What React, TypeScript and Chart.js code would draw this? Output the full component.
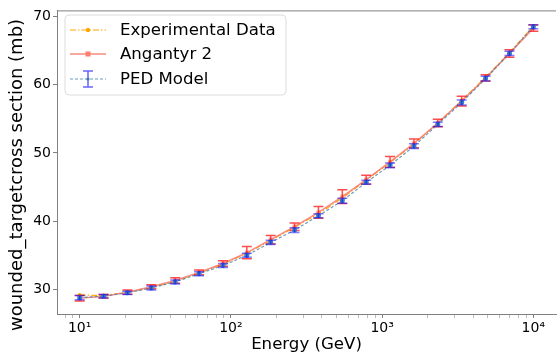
import React, { useEffect, useRef } from "react";
import { Chart, registerables } from "chart.js";

Chart.register(...registerables);

const energy = [10, 14.38, 20.69, 29.76, 42.81, 61.58, 88.59, 127.43, 183.3, 263.67, 379.27, 545.56, 784.76, 1128.84, 1623.78, 2335.72, 3359.82, 4832.93, 6951.93, 10000];
const expData = [29.2, 29.1, 29.6, 30.3, 31.2, 32.4, 33.7, 35.3, 37.2, 39.1, 41.1, 43.4, 46.0, 48.6, 51.3, 54.4, 57.7, 61.1, 64.7, 68.6];
const angantyr = [28.7, 29.0, 29.6, 30.4, 31.3, 32.5, 33.8, 35.4, 37.3, 39.2, 41.3, 43.6, 46.1, 48.7, 51.4, 54.4, 57.6, 61.0, 64.6, 68.3];
const angantyrErr = [0.4, 0.25, 0.3, 0.3, 0.4, 0.35, 0.4, 0.9, 0.6, 0.55, 0.85, 1.0, 0.65, 0.8, 0.65, 0.55, 0.7, 0.45, 0.55, 0.45];
const ped = [28.8, 29.0, 29.5, 30.2, 31.1, 32.3, 33.5, 35.0, 36.9, 38.7, 40.8, 43.0, 45.7, 48.2, 51.0, 54.2, 57.4, 60.9, 64.6, 68.5];
const pedErr = [0.3, 0.25, 0.25, 0.3, 0.3, 0.3, 0.3, 0.3, 0.3, 0.35, 0.3, 0.35, 0.3, 0.35, 0.35, 0.3, 0.35, 0.35, 0.3, 0.3];
const yTicks = [30, 40, 50, 60, 70];
const xMajor = [10, 100, 1000, 10000];
const xMajorLabels = ["10¹", "10²", "10³", "10⁴"];
const legendLabels = ["Experimental Data", "Angantyr 2", "PED Model"];
const yTitle = "wounded_targetcross section (mb)";
const xTitle = "Energy (GeV)";

const FONT = "'DejaVu Sans', sans-serif";
const SPINE = "#808080";

const errorBarPlugin = {
  id: "errorBars",
  afterDatasetDraw(chart: any, args: any) {
    const ds: any = chart.data.datasets[args.index];
    if (!ds.errors) return;
    const ctx = chart.ctx;
    const xs = chart.scales.x;
    const ys = chart.scales.y;
    ctx.save();
    ctx.strokeStyle = ds.errorColor;
    ctx.lineWidth = 1.5;
    ds.data.forEach((p: any, i: number) => {
      const x = xs.getPixelForValue(p.x);
      const y1 = ys.getPixelForValue(p.y - ds.errors[i]);
      const y2 = ys.getPixelForValue(p.y + ds.errors[i]);
      const c = ds.capHalf;
      ctx.beginPath();
      ctx.moveTo(x, y1);
      ctx.lineTo(x, y2);
      ctx.moveTo(x - c, y1);
      ctx.lineTo(x + c, y1);
      ctx.moveTo(x - c, y2);
      ctx.lineTo(x + c, y2);
      ctx.stroke();
    });
    ctx.restore();
  },
};

const framePlugin = {
  id: "frame",
  afterDraw(chart: any) {
    const { ctx, chartArea } = chart;
    ctx.save();
    ctx.strokeStyle = SPINE;
    ctx.lineWidth = 1;
    ctx.beginPath();
    ctx.moveTo(chartArea.left, chartArea.top + 0.5);
    ctx.lineTo(chartArea.right, chartArea.top + 0.5);
    ctx.stroke();

    // y title
    ctx.save();
    ctx.translate(17, 175);
    ctx.rotate(-Math.PI / 2);
    ctx.fillStyle = "#000";
    ctx.font = `18px ${FONT}`;
    ctx.textAlign = "center";
    ctx.textBaseline = "middle";
    ctx.fillText(yTitle, 0, 0);
    ctx.restore();

    // legend
    const bx = 65, by = 15, bw = 221, bh = 80, r = 4;
    ctx.beginPath();
    ctx.moveTo(bx + r, by);
    ctx.arcTo(bx + bw, by, bx + bw, by + bh, r);
    ctx.arcTo(bx + bw, by + bh, bx, by + bh, r);
    ctx.arcTo(bx, by + bh, bx, by, r);
    ctx.arcTo(bx, by, bx + bw, by, r);
    ctx.closePath();
    ctx.fillStyle = "rgba(255,255,255,0.8)";
    ctx.fill();
    ctx.strokeStyle = "#dcdcdc";
    ctx.stroke();

    const rows = [30, 54, 79];
    const lx1 = 70, lx2 = 106, mx = 88;
    ctx.strokeStyle = "#ffa500";
    ctx.lineWidth = 1.2;
    ctx.setLineDash([6, 2, 1.5, 2]);
    ctx.beginPath();
    ctx.moveTo(lx1, rows[0]);
    ctx.lineTo(lx2, rows[0]);
    ctx.stroke();
    ctx.setLineDash([]);
    ctx.fillStyle = "#ffa500";
    ctx.beginPath();
    ctx.arc(mx, rows[0], 2.2, 0, Math.PI * 2);
    ctx.fill();
    ctx.strokeStyle = "rgba(250,128,114,0.9)";
    ctx.lineWidth = 1.5;
    ctx.beginPath();
    ctx.moveTo(lx1, rows[1]);
    ctx.lineTo(lx2, rows[1]);
    ctx.stroke();
    ctx.fillStyle = "#fa8072";
    ctx.fillRect(mx - 2.5, rows[1] - 2.5, 5, 5);
    ctx.strokeStyle = "rgba(70,130,180,0.8)";
    ctx.lineWidth = 1.2;
    ctx.setLineDash([3, 2]);
    ctx.beginPath();
    ctx.moveTo(lx1, rows[2]);
    ctx.lineTo(lx2, rows[2]);
    ctx.stroke();
    ctx.setLineDash([]);
    ctx.strokeStyle = "rgba(0,0,255,0.6)";
    ctx.lineWidth = 1.5;
    ctx.beginPath();
    ctx.moveTo(mx, rows[2] - 8);
    ctx.lineTo(mx, rows[2] + 8);
    ctx.moveTo(mx - 5, rows[2] - 8);
    ctx.lineTo(mx + 5, rows[2] - 8);
    ctx.moveTo(mx - 5, rows[2] + 8);
    ctx.lineTo(mx + 5, rows[2] + 8);
    ctx.stroke();
    ctx.fillStyle = "#3a75b0";
    ctx.beginPath();
    ctx.arc(mx, rows[2], 1.5, 0, Math.PI * 2);
    ctx.fill();

    ctx.fillStyle = "#000";
    ctx.font = `16.6px ${FONT}`;
    ctx.textBaseline = "middle";
    ctx.textAlign = "left";
    legendLabels.forEach((t, i) => ctx.fillText(t, 120, rows[i] + 1));
    ctx.restore();
  },
};

export default function App() {
  const ref = useRef<HTMLCanvasElement>(null);
  useEffect(() => {
    document.body.style.margin = "0";
    const pts = (ys: number[]) => energy.map((x, i) => ({ x, y: ys[i] }));
    const minorTicks: number[] = [];
    for (let d = 1; d <= 10000; d *= 10) {
      for (let k = 1; k <= 9; k++) {
        const v = d * k;
        if (v >= 7.08 && v <= 14125) minorTicks.push(v);
      }
    }
    const chart = new Chart(ref.current!, {
      type: "line",
      data: {
        datasets: [
          {
            label: legendLabels[0],
            data: pts(expData),
            borderColor: "#ffa500",
            backgroundColor: "#ffa500",
            borderWidth: 1.2,
            borderDash: [6, 2, 1.5, 2],
            pointRadius: 2,
            pointBorderWidth: 0,
            order: 3,
          } as any,
          {
            label: legendLabels[1],
            data: pts(angantyr),
            borderColor: "rgba(250,128,114,0.9)",
            backgroundColor: "rgba(250,128,114,0.6)",
            borderWidth: 1.5,
            pointStyle: "rect",
            pointRadius: 3,
            pointBorderWidth: 0,
            errors: angantyrErr,
            errorColor: "rgba(255,0,0,0.7)",
            capHalf: 5,
            order: 2,
          } as any,
          {
            label: legendLabels[2],
            data: pts(ped),
            borderColor: "rgba(70,130,180,0.8)",
            backgroundColor: "#3f7fc0",
            borderWidth: 1.2,
            borderDash: [3, 2],
            pointRadius: 2.5,
            pointBorderWidth: 0,
            errors: pedErr,
            errorColor: "rgba(0,0,255,0.5)",
            capHalf: 5,
            order: 1,
          } as any,
        ],
      },
      options: {
        animation: false,
        responsive: false,
        devicePixelRatio: 1,
        layout: { padding: { top: 7, right: 0, left: 0, bottom: 0 } },
        plugins: { legend: { display: false }, tooltip: { enabled: false } },
        scales: {
          x: {
            type: "logarithmic",
            min: 7.08,
            max: 14125,
            afterBuildTicks: (s: any) => {
              s.ticks = minorTicks.map((v) => ({ value: v, major: xMajor.includes(v) }));
            },
            afterFit: (s: any) => {
              s.height = 41;
            },
            grid: {
              drawOnChartArea: false,
              tickLength: 4,
              tickColor: (c: any) => (c.tick && xMajor.includes(c.tick.value) ? SPINE : "#bbb"),
            },
            border: { display: true, color: SPINE },
            ticks: {
              autoSkip: false,
              maxRotation: 0,
              padding: 2,
              color: "#000",
              font: { family: FONT, size: 14 },
              callback: (v: any) => {
                const idx = xMajor.indexOf(Number(v));
                return idx >= 0 ? xMajorLabels[idx] : "";
              },
            },
            title: { display: true, text: xTitle, color: "#000", font: { family: FONT, size: 16.6 }, padding: { top: 0, bottom: 0 } },
          },
          y: {
            type: "linear",
            min: 26.4,
            max: 70.9,
            afterBuildTicks: (s: any) => {
              s.ticks = yTicks.map((v) => ({ value: v }));
            },
            afterFit: (s: any) => {
              s.width = 57;
            },
            grid: { drawOnChartArea: false, tickLength: 4, tickColor: SPINE },
            border: { display: true, color: SPINE },
            ticks: { padding: 2, color: "#000", font: { family: FONT, size: 14 } },
          },
        },
      },
      plugins: [errorBarPlugin, framePlugin],
    });
    return () => chart.destroy();
  }, []);
  return (
    <div style={{ width: 560, height: 355, background: "#fff" }}>
      <canvas ref={ref} width={560} height={355} style={{ display: "block" }} />
    </div>
  );
}
